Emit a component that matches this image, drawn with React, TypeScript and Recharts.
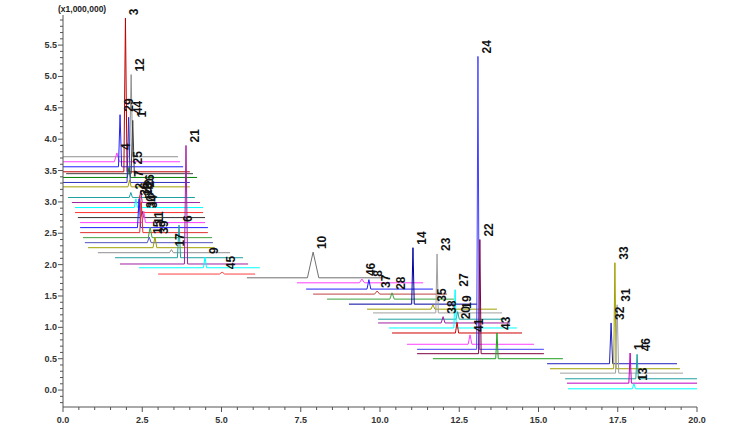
import React from 'react';
import { LineChart, Line, XAxis, YAxis } from 'recharts';

// one trace per compound: label, colour, time span (min), baseline and peak (x1,000,000)
const peakLabels = ['12', '4', '29', '3', '1', '25', '44', '7', '2', '26', '36', '42', '30', '34', '18', '5', '11', '15', '39', '17', '6', '21', '9', '45', '10', '46', '8', '37', '28', '14', '35', '23', '19', '38', '27', '20', '41', '24', '22', '43', '32', '33', '31', '46', '1', '13'];
const traceColors = ['#909090', '#ff40ff', '#2020ff', '#c00000', '#404040', '#008000', '#3030c0', '#a0a000', '#20a0a0', '#a020a0', '#00ffff', '#ff3030', '#303030', '#ff40ff', '#2020ff', '#e03030', '#40a040', '#5050c0', '#a0a000', '#909090', '#20a0a0', '#a020a0', '#00ffff', '#ff4040', '#707070', '#ff40ff', '#2020ff', '#c04040', '#40a040', '#0000a0', '#a0a000', '#a0a0a0', '#20a0a0', '#a020a0', '#00ffff', '#d00000', '#ff40ff', '#4040ff', '#800040', '#20a020', '#2020c0', '#a0a000', '#a0a0a0', '#20a0a0', '#c000c0', '#00ffff'];
const startTimes = [0, 0, 0, 0, 0.1, 0, 0, 0, 0.16, 0.28, 0.38, 0.38, 0.47, 0.54, 0.54, 0.54, 0.63, 0.69, 0.79, 1.1, 1.64, 1.8, 2.4, 3.0, 5.8, 7.38, 7.67, 7.89, 8.33, 9.02, 9.59, 9.78, 9.94, 9.94, 10.28, 10.38, 10.85, 11.17, 11.17, 11.67, 15.27, 15.36, 15.68, 15.84, 15.9, 15.93];
const endTimes = [3.63, 3.69, 3.79, 4.0, 4.1, 4.23, 4.0, 4.0, 4.16, 4.32, 4.42, 4.42, 4.48, 4.48, 4.57, 4.57, 4.7, 4.73, 4.79, 5.27, 5.68, 5.84, 6.21, 6.06, 10.25, 11.36, 11.67, 12.11, 12.33, 13.06, 13.69, 13.85, 13.94, 14.1, 14.32, 14.48, 14.86, 15.17, 15.17, 15.77, 19.37, 19.46, 19.56, 20, 20, 20];
const baselines = [3.72, 3.64, 3.56, 3.48, 3.45, 3.39, 3.31, 3.24, 3.07, 2.99, 2.91, 2.83, 2.75, 2.67, 2.59, 2.51, 2.43, 2.35, 2.27, 2.19, 2.11, 2.01, 1.95, 1.85, 1.79, 1.71, 1.61, 1.53, 1.45, 1.37, 1.29, 1.23, 1.13, 1.07, 0.99, 0.91, 0.73, 0.65, 0.58, 0.5, 0.42, 0.34, 0.27, 0.18, 0.11, 0.02];
const peakTimes = [2.15, 1.7, 1.8, 1.97, 2.2, 2.08, 2.07, 2.1, 2.14, 2.45, 2.3, 2.42, 2.5, 2.55, 2.4, 2.47, 2.75, 2.72, 2.9, 3.42, 3.66, 3.88, 4.48, 5.02, 7.89, 9.43, 9.65, 9.91, 10.38, 11.04, 11.67, 11.8, 12.45, 11.99, 12.37, 12.43, 12.84, 13.09, 13.15, 13.69, 17.29, 17.41, 17.48, 18.11, 17.89, 18.01];
const peakHeights = [5.03, 3.78, 4.39, 5.93, 4.3, 3.55, 4.35, 3.35, 3.15, 3.18, 3.05, 3.1, 2.85, 2.85, 3.05, 3.0, 2.6, 2.44, 2.44, 2.24, 2.63, 3.9, 2.12, 1.88, 2.2, 1.77, 1.76, 1.58, 1.55, 2.27, 1.36, 2.17, 1.25, 1.17, 1.6, 1.08, 0.88, 5.32, 2.4, 0.91, 1.07, 2.03, 1.36, 0.57, 0.59, 0.1];
const peakWidths = [0.05, 0.08, 0.05, 0.05, 0.05, 0.05, 0.05, 0.05, 0.05, 0.05, 0.05, 0.05, 0.05, 0.05, 0.05, 0.05, 0.06, 0.06, 0.06, 0.06, 0.05, 0.05, 0.05, 0.08, 0.18, 0.08, 0.06, 0.08, 0.07, 0.04, 0.06, 0.04, 0.05, 0.06, 0.04, 0.05, 0.06, 0.04, 0.04, 0.04, 0.05, 0.04, 0.05, 0.04, 0.04, 0.05];

const xTicks = Array.from({ length: 41 }, (_, i) => i * 0.5);
const yTicks = Array.from({ length: 62 }, (_, i) => Math.round((i - 2) * 10) / 100 * 10 / 10).map((v) => Math.round(v * 10) / 10);

const traces = peakLabels.map((label, i) => ({
  label,
  color: traceColors[i],
  peak: peakHeights[i],
  data: [
    { t: startTimes[i], v: baselines[i] },
    { t: peakTimes[i] - peakWidths[i], v: baselines[i] },
    { t: peakTimes[i], v: peakHeights[i] },
    { t: peakTimes[i] + peakWidths[i], v: baselines[i] },
    { t: endTimes[i], v: baselines[i] },
  ],
}));

const font = '"Liberation Sans", Arial, sans-serif';

const peakLabel = (text: string, peak: number) => (props: any) => {
  const isPeak = props.index === 2 || (props.index === undefined && props.value === peak);
  if (!isPeak) return <g />;
  const x = props.x + 13;
  const y = props.y - 3;
  return (
    <text x={x} y={y} transform={`rotate(-90 ${x} ${y})`} fontSize={12} fontWeight="bold" fontFamily={font} fill="#111">
      {text}
    </text>
  );
};

const YTick = (props: any) => {
  const { x, y, payload } = props;
  const v = payload.value;
  const major = Math.abs(v * 2 - Math.round(v * 2)) < 1e-6;
  return (
    <g>
      <line x1={x} x2={x - (major ? 5 : 3)} y1={y} y2={y} stroke="#555" />
      {major && (
        <text x={x - 6} y={y + 3} textAnchor="end" fontSize={9} fontWeight="bold" fontFamily={font} fill="#333">
          {v.toFixed(1)}
        </text>
      )}
    </g>
  );
};

const XTick = (props: any) => {
  const { x, y, payload } = props;
  const v = payload.value;
  const major = Math.abs(v / 2.5 - Math.round(v / 2.5)) < 1e-6;
  return (
    <g>
      <line x1={x} x2={x} y1={y} y2={y + (major ? 5 : 3)} stroke="#555" />
      {major && (
        <text x={x} y={y + 16} textAnchor="middle" fontSize={9} fontWeight="bold" fontFamily={font} fill="#333">
          {v.toFixed(1)}
        </text>
      )}
    </g>
  );
};

export default function App() {
  return (
    <div style={{ position: 'absolute', left: 0, top: 0, width: 756, height: 425, background: '#fff' }}>
      <LineChart width={756} height={425} margin={{ top: 15, right: 59, left: 13, bottom: 0 }}>
        <XAxis xAxisId={0} type="number" dataKey="t" domain={[0, 20]} ticks={xTicks} interval={0} allowDataOverflow
          height={18} tickSize={0} tickMargin={0} tick={<XTick />} axisLine={{ stroke: '#555' }} />
        <XAxis xAxisId="top" orientation="top" type="number" domain={[0, 20]} height={0} tick={false}
          axisLine={{ stroke: '#8a8a8a', strokeWidth: 2 }} />
        <YAxis yAxisId={0} type="number" domain={[-0.27, 5.98]} ticks={yTicks} interval={0} allowDataOverflow
          width={50} tickSize={0} tickMargin={0} tick={<YTick />} axisLine={{ stroke: '#555' }} />
        <YAxis yAxisId="right" orientation="right" type="number" domain={[-0.27, 5.98]} width={0} tick={false}
          axisLine={{ stroke: '#8a8a8a', strokeWidth: 2 }} />
        {traces.map((tr, i) => (
          <Line key={i} data={tr.data} dataKey="v" type="linear" stroke={tr.color} strokeWidth={1}
            dot={false} isAnimationActive={false} label={peakLabel(tr.label, tr.peak)} />
        ))}
      </LineChart>
      <div style={{ position: 'absolute', left: 58, top: 4, fontFamily: font, fontSize: 8.5, fontWeight: 'bold', color: '#222' }}>
        (x1,000,000)
      </div>
    </div>
  );
}
